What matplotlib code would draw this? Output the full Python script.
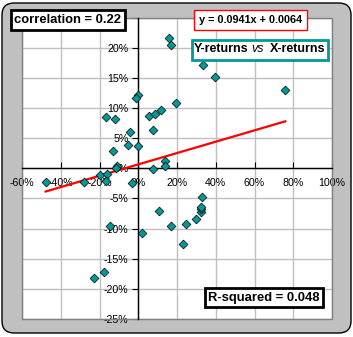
import matplotlib
matplotlib.use('Agg')
import matplotlib.pyplot as plt
import numpy as np
from matplotlib.patches import FancyBboxPatch, Rectangle

# returns in percent
x_ret = [15.9, 16.9, 33.3, 39.5, 75.9, -0.3, -1.2, 19.5, -16.8, -12.2,
         5.4, 8.6, 11.7, -4.4, 7.4, -5.4, -0.1, -13.0, 14.0, 14.0,
         7.4, -10.8, -11.3, -19.9, -16.1, -16.5, -47.8, -28.2, -3.2, -14.6,
         1.9, 10.7, -17.9, -23.0, 16.7, 22.9, 24.5, 29.8, 32.2, 32.2,
         32.2, 32.7]
y_ret = [21.6, 20.4, 17.1, 15.05, 12.9, 12.2, 11.7, 10.8, 8.55, 8.2,
         8.7, 9.05, 9.7, 6.05, 6.3, 3.8, 3.7, 2.9, 1.2, 0.3,
         -0.2, 0.3, 0.1, -1.1, -0.95, -2.1, -2.2, -2.2, -2.5, -9.6,
         -10.7, -7.1, -17.2, -18.2, -9.6, -12.6, -9.2, -8.4, -7.2, -6.8,
         -6.4, -4.7]

slope = 0.0941
intercept = 0.0064
correlation = 0.22
r_squared = 0.048

x_ticks = [-60, -40, -20, 0, 20, 40, 60, 80, 100]
y_ticks = [-25, -20, -15, -10, -5, 0, 5, 10, 15, 20, 25]
# the 25% label sits under the correlation box in the original
y_labels = ['-25%', '-20%', '-15%', '-10%', '-5%', '0%', '5%', '10%', '15%', '20%', '']

W, H = 353, 337
fig = plt.figure(figsize=(W / 100, H / 100), dpi=100)
fig.patch.set_facecolor('white')
plt.rcParams['font.family'] = ['Liberation Sans', 'DejaVu Sans']

def fx(px):
    return px / W

def fy(py):
    return 1 - py / H

# chart area: grey rounded panel
bg = FancyBboxPatch((fx(2), fy(333)), fx(349), (332 - 2) / H,
                    boxstyle='round,pad=0,rounding_size=0.035',
                    transform=fig.transFigure, facecolor='#c0c0c0',
                    edgecolor='black', linewidth=1, zorder=-10)
fig.patches.append(bg)

ax = fig.add_axes([fx(22), fy(319), fx(310), (319 - 17.5) / H])
ax.set_facecolor('white')
ax.set_xlim(-60, 100)
ax.set_ylim(-25, 25)

ax.set_xticks(x_ticks)
ax.set_xticklabels([f'{v}%' for v in x_ticks])
ax.set_yticks(y_ticks)
ax.set_yticklabels(y_labels)
ax.grid(True, color='#c0c0c0', linewidth=1)
ax.set_axisbelow(True)

for s in ['top', 'right']:
    ax.spines[s].set_visible(False)
ax.spines['left'].set_position(('data', 0))
ax.spines['bottom'].set_position(('data', 0))
ax.spines['left'].set_linewidth(1)
ax.spines['bottom'].set_linewidth(1)
ax.tick_params(axis='x', direction='in', length=4, pad=7, labelsize=7.7)
ax.tick_params(axis='y', direction='out', length=4, pad=3, labelsize=7.7)

# plot area border
ax.add_patch(Rectangle((0, 0), 1, 1, transform=ax.transAxes, fill=False,
                       edgecolor='#808080', linewidth=1, clip_on=False, zorder=1))

ax.scatter(x_ret, y_ret, marker='D', s=20, facecolor='#009999',
           edgecolor='black', linewidth=0.5, zorder=4, clip_on=False)

xl = np.array([min(x_ret), max(x_ret)])
ax.plot(xl, (slope * xl / 100 + intercept) * 100, color='red', linewidth=1.6, zorder=3)

# text boxes
fig.text(fx(68), fy(20), f'correlation = {correlation}', ha='center', va='center',
         fontsize=9.4, fontweight='bold',
         bbox=dict(boxstyle='square,pad=0.3', facecolor='white', edgecolor='black', linewidth=2))
fig.text(fx(250.5), fy(20), f'y = {slope}x + {intercept}', ha='center', va='center',
         fontsize=7.8, fontweight='bold',
         bbox=dict(boxstyle='square,pad=0.45', facecolor='white', edgecolor='red', linewidth=1))
fig.text(fx(264), fy(297.5), f'R-squared = {r_squared}', ha='center', va='center',
         fontsize=9.4, fontweight='bold',
         bbox=dict(boxstyle='square,pad=0.25', facecolor='white', edgecolor='black', linewidth=2))

fig.patches.append(Rectangle((fx(192), fy(60)), fx(136), 20 / H, transform=fig.transFigure,
                             facecolor='white', edgecolor='#009999', linewidth=2, zorder=5))
fig.text(fx(193.5), fy(49.5), 'Y-returns', ha='left', va='center', fontsize=9,
         fontweight='bold', zorder=6)
fig.text(fx(258), fy(49.5), 'vs', ha='center', va='center', fontsize=9,
         fontstyle='italic', zorder=6)
fig.text(fx(325.5), fy(49.5), 'X-returns', ha='right', va='center', fontsize=9,
         fontweight='bold', zorder=6)

fig.savefig('out.png', dpi=100)
